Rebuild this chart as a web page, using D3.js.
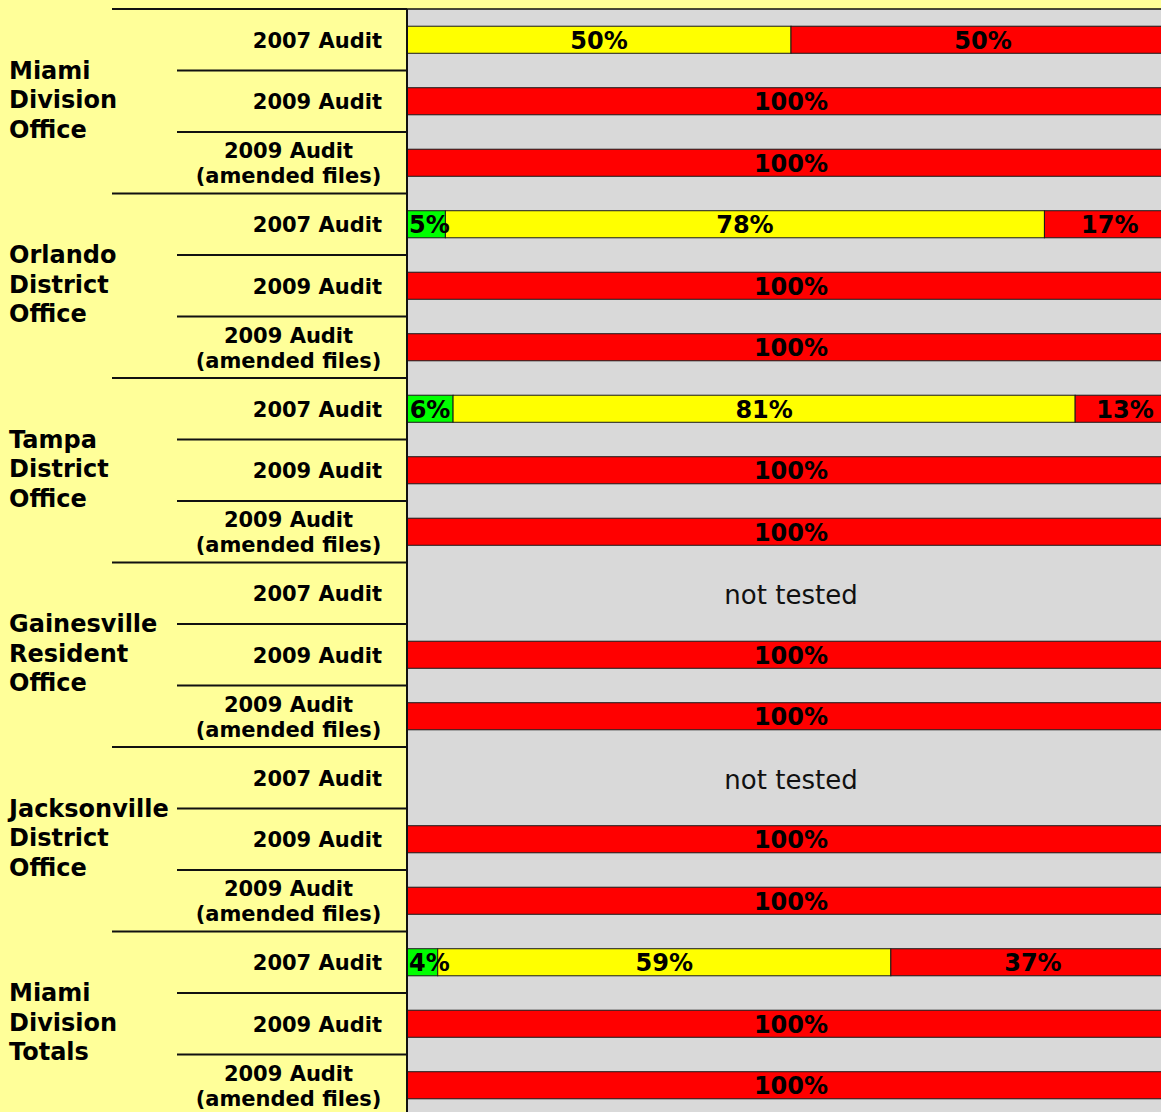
<!DOCTYPE html>
<html>
<head>
<meta charset="utf-8">
<script src="https://cdn.jsdelivr.net/npm/d3@7"></script>
<style>
body { margin: 0; background: #FFFF99; }
svg { display: block; font-family: "DejaVu Sans", Verdana, sans-serif; }
</style>
</head>
<body>
<script>
let width = 1161;
let height = 1112;

// office groups, three audit rows each
let groups = [
    ['Miami', 'Division', 'Office'],
    ['Orlando', 'District', 'Office'],
    ['Tampa', 'District', 'Office'],
    ['Gainesville', 'Resident', 'Office'],
    ['Jacksonville', 'District', 'Office'],
    ['Miami', 'Division', 'Totals']
];
let audits = [['2007 Audit'], ['2009 Audit'], ['2009 Audit', '(amended files)']];

// percent of files per row (null = not tested)
let green  = [0, 0, 0,    5, 0, 0,    6, 0, 0,    null, 0, 0,    null, 0, 0,    4, 0, 0];
let yellow = [50, 0, 0,   78, 0, 0,   81, 0, 0,   null, 0, 0,    null, 0, 0,    59, 0, 0];
let red    = [50, 100, 100, 17, 100, 100, 13, 100, 100, null, 100, 100, null, 100, 100, 37, 100, 100];

let colors = { green: '#00FF00', yellow: '#FFFF00', red: '#FF0000' };

let rows = d3.range(groups.length * audits.length).map(function(i){
    return { i: i, green: green[i], yellow: yellow[i], red: red[i] };
});

let plotLeft = 407;
let plotTop = 9;
let step = 61.5;

let x = d3.scaleLinear()
.domain([0, 100])
.range([plotLeft, 1175]);

let y = d3.scaleBand()
.domain(rows.map(function(d){ return d.i; }))
.range([plotTop, plotTop + step * rows.length]);

let barH = y.bandwidth() * 0.44;

let svg = d3.select('body')
.append('svg')
.attr('width', width)
.attr('height', height);

svg.append('rect')
.attr('width', width)
.attr('height', height)
.attr('fill', '#FFFF99');

// plot area
svg.append('rect')
.attr('x', plotLeft)
.attr('y', plotTop)
.attr('width', width - plotLeft + 20)
.attr('height', height)
.attr('fill', '#D9D9D9')
.attr('stroke', '#111')
.attr('stroke-width', 1.5);

let stack = d3.stack().keys(['green', 'yellow', 'red']);
let series = stack(rows.filter(function(d){ return d.red !== null; }));

let bars = svg.append('g');
series.forEach(function(s){
    bars.selectAll(null)
    .data(s.filter(function(d){ return d[1] - d[0] > 0; }))
    .enter()
    .append('rect')
    .attr('x', function(d){ return x(d[0]); })
    .attr('y', function(d){ return y(d.data.i) + (y.bandwidth() - barH) / 2; })
    .attr('width', function(d){ return x(d[1]) - x(d[0]); })
    .attr('height', barH)
    .attr('fill', colors[s.key])
    .attr('stroke', '#1a1a1a')
    .attr('stroke-width', 1);
});

let labels = svg.append('g')
.attr('font-size', 24)
.attr('font-weight', 'bold')
.attr('fill', '#000')
.attr('text-anchor', 'middle');

series.forEach(function(s){
    labels.selectAll(null)
    .data(s.filter(function(d){ return d[1] - d[0] > 0; }))
    .enter()
    .append('text')
    .attr('x', function(d){ return (x(d[0]) + x(d[1])) / 2; })
    .attr('y', function(d){ return y(d.data.i) + y.bandwidth() / 2 + 9; })
    .text(function(d){ return (d[1] - d[0]) + '%'; })
    .each(function(){
        let w = this.getComputedTextLength();
        let cx = +this.getAttribute('x');
        if (cx - w / 2 < plotLeft + 2) {
            this.setAttribute('x', plotLeft + 2 + w / 2);
        }
    });
});

// rows that were not tested
svg.append('g')
.selectAll('text')
.data(rows.filter(function(d){ return d.red === null; }))
.enter()
.append('text')
.attr('x', x(50))
.attr('y', function(d){ return y(d.i) + y.bandwidth() / 2 + 11; })
.attr('text-anchor', 'middle')
.attr('font-size', 26)
.attr('fill', '#111')
.text('not tested');

// axis line
svg.append('line')
.attr('x1', plotLeft)
.attr('x2', plotLeft)
.attr('y1', plotTop)
.attr('y2', height)
.attr('stroke', '#111')
.attr('stroke-width', 2);

// row and group separators
svg.append('g')
.selectAll('line')
.data(d3.range(rows.length + 1))
.enter()
.append('line')
.attr('x1', function(i){ return i % 3 === 0 ? 112 : 177; })
.attr('x2', plotLeft)
.attr('y1', function(i){ return plotTop + i * y.step(); })
.attr('y2', function(i){ return plotTop + i * y.step(); })
.attr('stroke', '#111')
.attr('stroke-width', 2);

// audit labels
let sub = svg.append('g')
.attr('font-size', 21)
.attr('font-weight', 'bold')
.attr('fill', '#000');

rows.forEach(function(d){
    let lines = audits[d.i % 3];
    let cy = y(d.i) + y.bandwidth() / 2;
    if (lines.length === 1) {
        sub.append('text')
        .attr('x', 382)
        .attr('y', cy + 8)
        .attr('text-anchor', 'end')
        .text(lines[0]);
    } else {
        lines.forEach(function(t, k){
            sub.append('text')
            .attr('x', 288.5)
            .attr('y', cy + 8 + (k - 0.5) * 25)
            .attr('text-anchor', 'middle')
            .text(t);
        });
    }
});

// group labels
let grp = svg.append('g')
.attr('font-size', 24)
.attr('font-weight', 'bold')
.attr('fill', '#000');

groups.forEach(function(lines, g){
    let cy = y(g * 3) + y.step() * 1.5;
    lines.forEach(function(t, k){
        grp.append('text')
        .attr('x', 9)
        .attr('y', cy + 7 + (k - 1) * 29.5)
        .text(t);
    });
});
</script>
</body>
</html>
